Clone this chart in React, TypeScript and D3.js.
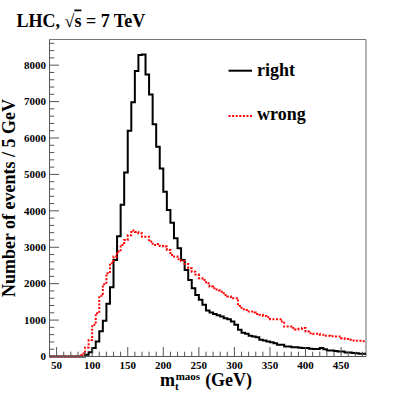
import React from "react";
import * as d3 from "d3";

const BIN_START = 40;
const BIN_WIDTH = 5;
const X_DOMAIN = [40, 485];
const Y_DOMAIN = [0, 8705];
const X_TICKS = [50, 100, 150, 200, 250, 300, 350, 400, 450];
const Y_TICKS = [0, 1000, 2000, 3000, 4000, 5000, 6000, 7000, 8000];

// "right" combination, counts per 5 GeV bin starting at 40 GeV
const rightCounts = [
  0, 0, 0, 0, 0, 0, 0, 0, 0, 0,
  50, 120, 230, 410, 690, 980, 1450, 1900, 2650, 3300,
  4170, 5050, 6200, 6980, 7840, 8280, 8290, 7745, 7195, 6380,
  5760, 5165, 4525, 4025, 3675, 3245, 2970, 2650, 2375, 2100,
  1875, 1690, 1555, 1420, 1260, 1205, 1170, 1130, 1100, 1050,
  1025, 960, 870, 732, 650, 623, 568, 550, 532, 458,
  440, 412, 390, 367, 321, 321, 274, 274, 257, 257,
  240, 230, 230, 210, 203, 203, 230, 200, 165, 165,
  150, 137, 137, 110, 110, 93, 90, 74, 74,
];

// "wrong" combination
const wrongCounts = [
  0, 0, 0, 0, 0, 0, 0, 0, 0, 80,
  250, 450, 870, 1190, 1665, 1985, 2285, 2560, 2745, 2880,
  3065, 3200, 3330, 3457, 3420, 3385, 3290, 3290, 3155, 3065,
  3090, 3035, 3020, 2925, 2790, 2745, 2670, 2620, 2540, 2425,
  2330, 2250, 2150, 2100, 2010, 1920, 1875, 1810, 1780, 1690,
  1650, 1600, 1600, 1390, 1300, 1280, 1235, 1205, 1170, 1145,
  1115, 1080, 1025, 1025, 1025, 960, 823, 823, 780, 740,
  760, 780, 686, 640, 623, 623, 600, 568, 568, 555,
  549, 549, 504, 480, 458, 440, 430, 430, 420,
];

const LEGEND = ["right", "wrong"];

const W = 407;
const H = 397;
const L = 49.5, R = 366, T = 39.5, B = 356.5;
const FONT = "'Liberation Serif', 'Times New Roman', serif";

export default function App() {
  const x = d3.scaleLinear().domain(X_DOMAIN).range([L, R]);
  const y = d3.scaleLinear().domain(Y_DOMAIN).range([B, T]);

  const stepPath = (counts: number[]) => {
    const pts: [number, number][] = counts.map((c, i) => [BIN_START + i * BIN_WIDTH, c]);
    pts.push([BIN_START + counts.length * BIN_WIDTH, counts[counts.length - 1]]);
    return d3
      .line<[number, number]>()
      .x((d) => x(d[0]))
      .y((d) => y(d[1]))
      .curve(d3.curveStepAfter)(pts) as string;
  };

  const xMinor = d3.range(40, 486, 10).filter((v) => v % 50 !== 0);
  const yMinor = d3.range(0, 8705, 200).filter((v) => v % 1000 !== 0);
  const axisColor = "#555";

  return (
    <svg width={W} height={H} style={{ position: "absolute", left: 0, top: 0, background: "#fff" }} fontFamily={FONT}>
      <rect x={0} y={0} width={W} height={H} fill="#fff" />
      {/* title */}
      <text x={16.5} y={26.5} fontSize={18} fontWeight="bold" fill="#000">
        LHC, √<tspan style={{ textDecoration: "overline" }}>s</tspan> = 7 TeV
      </text>

      {/* frame */}
      <line x1={L} y1={T} x2={R} y2={T} stroke="#777" strokeWidth={1} />
      <line x1={R} y1={T} x2={R} y2={B} stroke="#999" strokeWidth={1.5} />

      {/* histograms */}
      <path d={stepPath(rightCounts)} fill="none" stroke="#000" strokeWidth={2} />
      <path d={stepPath(wrongCounts)} fill="none" stroke="#f00" strokeWidth={2} strokeDasharray="2 1.6" />

      {/* axes */}
      <line x1={L} y1={T} x2={L} y2={B} stroke={axisColor} strokeWidth={1} />
      <line x1={L} y1={B} x2={R} y2={B} stroke={axisColor} strokeWidth={1} />
      {X_TICKS.map((t) => (
        <line key={"xt" + t} x1={x(t)} x2={x(t)} y1={B} y2={B - 9.5} stroke={axisColor} strokeWidth={1} />
      ))}
      {xMinor.map((t) => (
        <line key={"xm" + t} x1={x(t)} x2={x(t)} y1={B} y2={B - 4.8} stroke={axisColor} strokeWidth={1} />
      ))}
      {Y_TICKS.map((t) => (
        <line key={"yt" + t} x1={L} x2={L + 9.5} y1={y(t)} y2={y(t)} stroke={axisColor} strokeWidth={1} />
      ))}
      {yMinor.map((t) => (
        <line key={"ym" + t} x1={L} x2={L + 4.8} y1={y(t)} y2={y(t)} stroke={axisColor} strokeWidth={1} />
      ))}

      {X_TICKS.map((t) => (
        <text key={"xl" + t} x={x(t)} y={368.5} fontSize={11} fontWeight="bold" textAnchor="middle" fill="#000">
          {t}
        </text>
      ))}
      {Y_TICKS.map((t) => (
        <text key={"yl" + t} x={46} y={y(t) + 3.8} fontSize={11} fontWeight="bold" textAnchor="end" fill="#000">
          {t}
        </text>
      ))}

      {/* axis titles */}
      <text x={160} y={385.5} fontSize={18} fontWeight="bold" fill="#000">
        m
        <tspan fontSize={11} dy={4.5}>t</tspan>
        <tspan fontSize={11} dx={-3} dy={-10.5}>maos</tspan>
        <tspan dy={6} dx={5}>(GeV)</tspan>
      </text>
      <text
        transform={`translate(${15}, ${198}) rotate(-90)`}
        fontSize={18}
        fontWeight="bold"
        textAnchor="middle"
        fill="#000"
      >
        Number of events / 5 GeV
      </text>

      {/* legend */}
      <line x1={228.5} x2={252} y1={70.7} y2={70.7} stroke="#000" strokeWidth={2} />
      <text x={257} y={75.5} fontSize={18} fontWeight="bold" fill="#000">{LEGEND[0]}</text>
      <line x1={228.5} x2={252} y1={116} y2={116} stroke="#f00" strokeWidth={2} strokeDasharray="2 1.6" />
      <text x={257} y={120} fontSize={18} fontWeight="bold" fill="#000">{LEGEND[1]}</text>
    </svg>
  );
}
